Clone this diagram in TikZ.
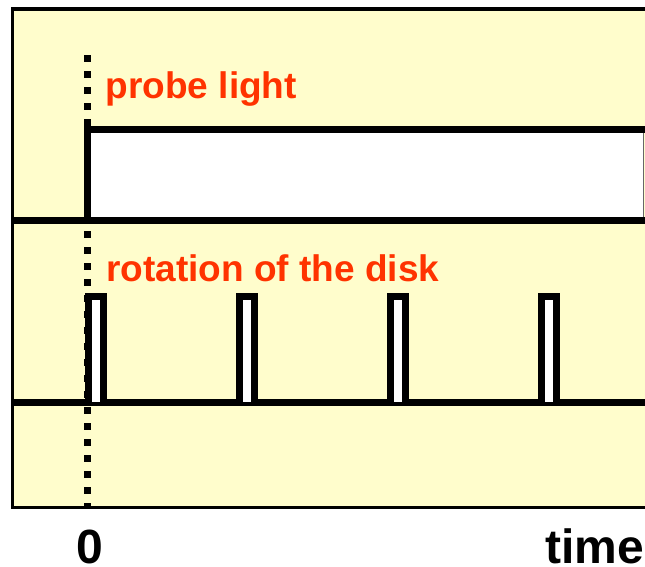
\documentclass[tikz,border=0pt]{standalone}
\usepackage{fontspec}
\setmainfont{Liberation Sans}
\definecolor{paper}{HTML}{FFFDCC}
\definecolor{labelred}{HTML}{FF3300}
\begin{document}
\begin{tikzpicture}[x=1pt,y=-1pt,
  frame/.style={draw=black, line width=3.5pt, fill=paper},
  signal/.style={draw=black, line width=7pt, line join=miter},
  marker/.style={draw=black, line width=7pt, dash pattern=on 7pt off 9pt},
  tracelabel/.style={text=labelred, font=\bfseries\fontsize{37}{41}\selectfont, inner sep=0pt, anchor=base west},
  axislabel/.style={text=black, font=\bfseries\fontsize{48}{52}\selectfont, inner sep=0pt}]
\useasboundingbox (0,0) rectangle (645,566);
\fill[white] (0,0) rectangle (645,566);

% panel background
\draw[frame] (12.5,9) rectangle (665,507.5);

% time-zero marker
\coordinate (m0) at (87.5,55);
\coordinate (m1) at (87.5,507);
\draw[marker] (m0) -- (m1);

% probe light: switched on at t = 0 and kept on
\fill[white] (87,129.5) rectangle (643,220.5);
\draw[black!60, line width=0.8pt] (643,129.5) -- (643,220.5);
\draw[signal] (12.5,220.5) -- (665,220.5);
\draw[signal] (87,220.5) -- (87,129.5) -- (665,129.5);

% rotation of the disk: one short pulse per turn
\draw[signal] (12.5,402) -- (665,402);
\foreach \x in {88,239,390,541}{
  \fill[white] (\x,296.5) rectangle (\x+15,402);
  \draw[signal] (\x,402) -- (\x,296.5) -- (\x+15,296.5) -- (\x+15,402);
}

% labels
\node[tracelabel] (probe) at (105.5,98) {probe light};
\node[tracelabel] (rotation) at (106,281) {rotation of the disk};
\node[axislabel, anchor=base] (zero) at (90,563) {0};
\node[axislabel, anchor=base west] (time) at (545,563) {time};
\end{tikzpicture}
\end{document}
